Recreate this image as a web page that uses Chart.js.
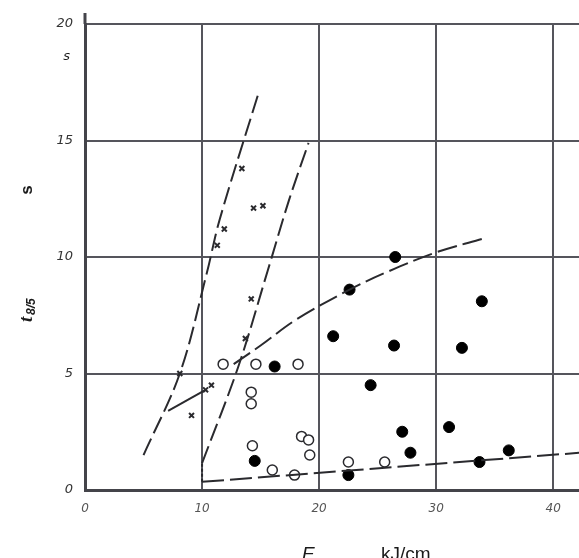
<!DOCTYPE html>
<html>
<head>
<meta charset="utf-8">
<script src="https://cdn.jsdelivr.net/npm/chart.js@4.4.1/dist/chart.umd.min.js"></script>
<style>
  html, body { margin: 0; padding: 0; background: #fff; }
  #wrap { width: 579px; height: 558px; }
</style>
</head>
<body>
<div id="wrap"><canvas id="t85Chart" width="579" height="558"></canvas></div>
<script>
// tick values
const xTicks = [0, 10, 20, 30, 40];
const yTicks = [0, 5, 10, 15, 20];

// measured points, [E kJ/cm, t8/5 s]
const crossPts = [[13.4, 13.8], [14.4, 12.1], [15.2, 12.2], [11.9, 11.2], [11.3, 10.5],
  [14.2, 8.2], [13.7, 6.5], [8.1, 5.0], [10.3, 4.3], [10.8, 4.5], [9.1, 3.2]];
const openPts = [[11.8, 5.4], [14.6, 5.4], [18.2, 5.4], [14.2, 4.2], [14.2, 3.7], [14.3, 1.9],
  [16.0, 0.86], [17.9, 0.64], [18.5, 2.3], [19.1, 2.15], [19.2, 1.5], [22.5, 1.2], [25.6, 1.2]];
const filledPts = [[16.2, 5.3], [14.5, 1.25], [22.5, 0.64], [22.6, 8.6], [21.2, 6.6], [26.4, 6.2],
  [24.4, 4.5], [33.9, 8.1], [32.2, 6.1], [27.1, 2.5], [31.1, 2.7], [27.8, 1.6], [33.7, 1.2],
  [36.2, 1.7], [26.5, 10.0]];

// hand-drawn boundary curves
const curveA = [[5.0, 1.5], [8.1, 5.0], [10.4, 9.3], [11.5, 11.6], [14.8, 17.0]];
const curveB = [[10.0, 1.15], [13.1, 5.3], [15.6, 9.4], [17.4, 12.4], [19.1, 14.9]];
const curveC = [[12.7, 5.4], [15.0, 6.2], [18.0, 7.3], [22.6, 8.6], [26.0, 9.4], [30.0, 10.2], [34.1, 10.8]];
const curveD = [[10.0, 0.35], [42.3, 1.6]];
const linkSeg = [[7.1, 3.4], [10.3, 4.3]];
const stemSeg = [[10.0, 0.35], [10.0, 1.15]];

const toXY = arr => arr.map(p => ({ x: p[0], y: p[1] }));
const ink = '#2a2a2e';
const gridInk = '#55555c';

function lineSet(pts, dash) {
  return {
    type: 'line', data: toXY(pts), borderColor: ink, borderWidth: 2,
    borderDash: dash, pointRadius: 0, tension: 0.35, fill: false
  };
}

const labelPlugin = {
  id: 'labels',
  afterDraw(chart) {
    const c = chart.ctx;
    c.save();
    c.fillStyle = '#1a1a1a';
    c.font = 'italic 13px "DejaVu Sans"';
    c.textAlign = 'right';
    c.textBaseline = 'middle';
    c.fillText('s', 70, 57);
    // left axis runs a bit past 20
    c.strokeStyle = '#44444a';
    c.lineWidth = 3;
    c.beginPath();
    c.moveTo(chart.chartArea.left, chart.chartArea.top);
    c.lineTo(chart.chartArea.left, 13);
    c.stroke();
    // rotated y label pieces
    c.translate(27, 190);
    c.rotate(-Math.PI / 2);
    c.textAlign = 'center';
    c.font = 'bold 17px "Liberation Sans"';
    c.fillText('s', 0, 0);
    c.restore();
    c.save();
    c.fillStyle = '#1a1a1a';
    c.translate(27, 322);
    c.rotate(-Math.PI / 2);
    c.textAlign = 'left';
    c.textBaseline = 'middle';
    c.font = 'bold italic 19px "Liberation Serif"';
    c.fillText('t', 0, 0);
    c.font = 'bold italic 12px "Liberation Sans"';
    c.fillText('8/5', 7, 5);
    c.restore();
    c.save();
    c.fillStyle = '#1a1a1a';
    c.textBaseline = 'alphabetic';
    c.font = 'italic 19px "Liberation Sans"';
    c.fillText('E', 302, 560);
    c.font = '19px "Liberation Sans"';
    c.fillText('kJ/cm', 381, 560);
    c.restore();
  }
};

new Chart(document.getElementById('t85Chart').getContext('2d'), {
  type: 'scatter',
  data: {
    datasets: [
      lineSet(curveA, [18, 6]),
      lineSet(curveB, [18, 6]),
      lineSet(curveC, [20, 6]),
      Object.assign(lineSet(curveD, [22, 6]), { tension: 0 }),
      Object.assign(lineSet(linkSeg, []), { tension: 0 }),
      Object.assign(lineSet(stemSeg, [3, 2]), { tension: 0 }),
      {
        data: toXY(crossPts), pointStyle: 'crossRot', pointRadius: 3.5,
        borderColor: ink, borderWidth: 2
      },
      {
        data: toXY(openPts), pointStyle: 'circle', pointRadius: 5,
        borderColor: ink, borderWidth: 1.5, backgroundColor: '#fff'
      },
      {
        data: toXY(filledPts), pointStyle: 'circle', pointRadius: 5.5,
        borderColor: '#000', borderWidth: 1, backgroundColor: '#000'
      }
    ]
  },
  options: {
    responsive: false,
    animation: false,
    layout: { autoPadding: false, padding: { top: 24, right: 0, left: 0, bottom: 0 } },
    plugins: { legend: { display: false }, tooltip: { enabled: false } },
    scales: {
      x: {
        type: 'linear', min: 0, max: 42.2,
        afterBuildTicks: s => { s.ticks = xTicks.map(v => ({ value: v })); },
        afterFit: s => { s.height = 68; s.paddingRight = 0; },
        grid: { color: gridInk, lineWidth: 2, drawTicks: false },
        border: { color: '#44444a', width: 3 },
        ticks: {
          padding: 12, color: '#555',
          font: { family: 'DejaVu Sans', style: 'italic', size: 12 }
        }
      },
      y: {
        type: 'linear', min: 0, max: 20,
        afterBuildTicks: s => { s.ticks = yTicks.map(v => ({ value: v })); },
        afterFit: s => { s.width = 85; },
        grid: { color: gridInk, lineWidth: 2, drawTicks: false },
        border: { color: '#44444a', width: 3 },
        ticks: {
          padding: 12, color: '#333',
          font: { family: 'DejaVu Sans', style: 'italic', size: 13 }
        }
      }
    }
  },
  plugins: [labelPlugin]
});
</script>
</body>
</html>
